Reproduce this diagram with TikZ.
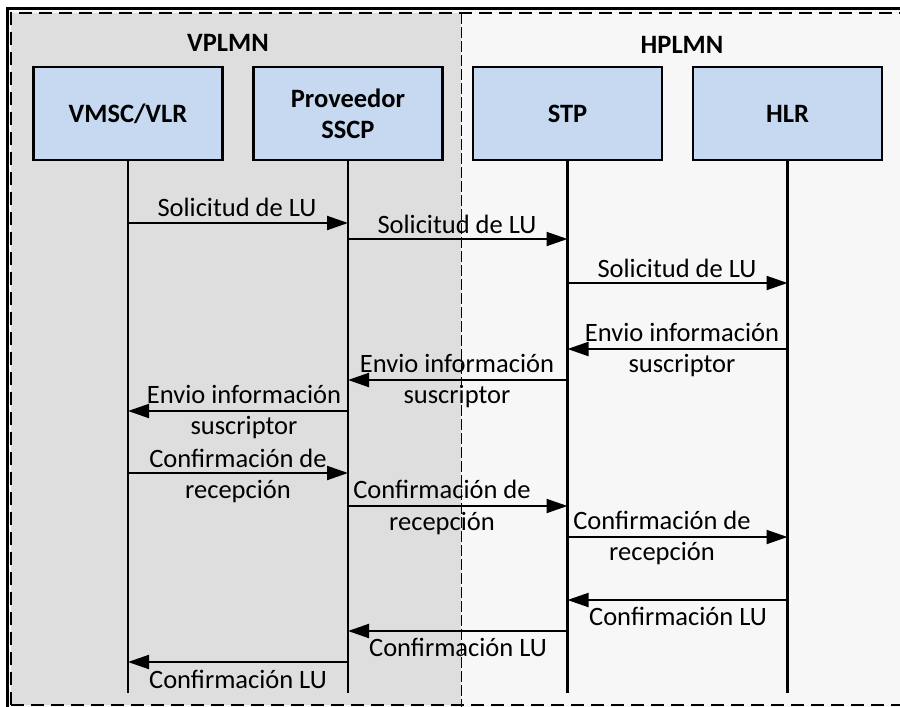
\documentclass[tikz,border=0pt]{standalone}
\usepackage{fontspec}
\setmainfont{Carlito}
\usetikzlibrary{arrows.meta}
\definecolor{boxblue}{HTML}{C6D9F0}
\definecolor{leftgray}{HTML}{DEDEDE}
\definecolor{rightgray}{HTML}{F7F7F7}
\tikzset{
  entity/.style={draw=black, line width=2.6pt, fill=boxblue, minimum width=189pt, minimum height=93pt,
    align=center, font=\fontsize{26.5}{31}\selectfont\bfseries, inner sep=0pt},
  title/.style={font=\fontsize{26.5}{31}\selectfont\bfseries, inner sep=0pt},
  lifeline/.style={line width=2.6pt},
  msg/.style={line width=2pt, -{Triangle[length=21pt,width=14pt]}},
  lbl/.style={font=\fontsize{26.5}{31.5}\selectfont, align=center, inner sep=0pt}
}
\begin{document}
\begin{tikzpicture}[x=1pt,y=-1pt]
\useasboundingbox (0,0) rectangle (900,707);
\begin{scope}
\clip (0,0) rectangle (900,707);
\fill[white] (0,0) rectangle (900,707);
% outer frame
\fill[rightgray] (7,8) rectangle (910,715);
\fill[leftgray] (11,13) rectangle (461,705);
\draw[line width=3pt] (7,715) -- (7,8) -- (910,8);
\draw[line width=2pt, dash pattern=on 13pt off 7pt] (11,705) -- (11,13) -- (910,13);
\draw[line width=2pt, dash pattern=on 13pt off 7pt] (11,705) -- (910,705);
\draw[line width=1pt, dash pattern=on 11pt off 3pt] (461,13) -- (461,707);
\end{scope}
% titles
\node[title] (vplmn) at (228,43) {VPLMN};
\node[title] (hplmn) at (682,45) {HPLMN};
% entities
\node[entity] (vmsc) at (128,113.5) {VMSC/VLR};
\node[entity] (prov) at (348,113.5) {Proveedor\\SSCP};
\node[entity] (stp) at (567.5,113.5) {STP};
\node[entity] (hlr) at (787.5,113.5) {HLR};
% lifeline ends
\coordinate (yend) at (0,693);
\draw[lifeline] (vmsc.south) -- (vmsc.south |- yend);
\draw[lifeline] (prov.south) -- (prov.south |- yend);
\draw[lifeline] (stp.south) -- (stp.south |- yend);
\draw[lifeline] (hlr.south) -- (hlr.south |- yend);
% message levels
\coordinate (m1) at (0,223);
\coordinate (m2) at (0,239);
\coordinate (m3) at (0,283);
\coordinate (m4) at (0,349);
\coordinate (m5) at (0,380);
\coordinate (m6) at (0,411);
\coordinate (m7) at (0,473);
\coordinate (m8) at (0,506);
\coordinate (m9) at (0,537);
\coordinate (m10) at (0,600);
\coordinate (m11) at (0,631);
\coordinate (m12) at (0,662);
% messages
\draw[msg] (vmsc |- m1) -- (prov |- m1);
\draw[msg] (prov |- m2) -- (stp |- m2);
\draw[msg] (stp |- m3) -- (hlr |- m3);
\draw[msg] (hlr |- m4) -- (stp |- m4);
\draw[msg] (stp |- m5) -- (prov |- m5);
\draw[msg] (prov |- m6) -- (vmsc |- m6);
\draw[msg] (vmsc |- m7) -- (prov |- m7);
\draw[msg] (prov |- m8) -- (stp |- m8);
\draw[msg] (stp |- m9) -- (hlr |- m9);
\draw[msg] (hlr |- m10) -- (stp |- m10);
\draw[msg] (stp |- m11) -- (prov |- m11);
\draw[msg] (prov |- m12) -- (vmsc |- m12);
% labels
\node[lbl] (l1) at (237,207) {Solicitud de LU};
\node[lbl] (l2) at (457,224) {Solicitud de LU};
\node[lbl] (l3) at (677,268) {Solicitud de LU};
\node[lbl] (l4) at (682,350) {Envio información\\suscriptor};
\node[lbl] (l5) at (457,381) {Envio información\\suscriptor};
\node[lbl] (l6) at (244,412) {Envio información\\suscriptor};
\node[lbl] (l7) at (238,476) {Confirmación de\\recepción};
\node[lbl] (l8) at (442,507.5) {Confirmación de\\recepción};
\node[lbl] (l9) at (662,538) {Confirmación de\\recepción};
\node[lbl] (l10) at (678,616) {Confirmación LU};
\node[lbl] (l11) at (458,647) {Confirmación LU};
\node[lbl] (l12) at (238,679) {Confirmación LU};
\end{tikzpicture}
\end{document}
